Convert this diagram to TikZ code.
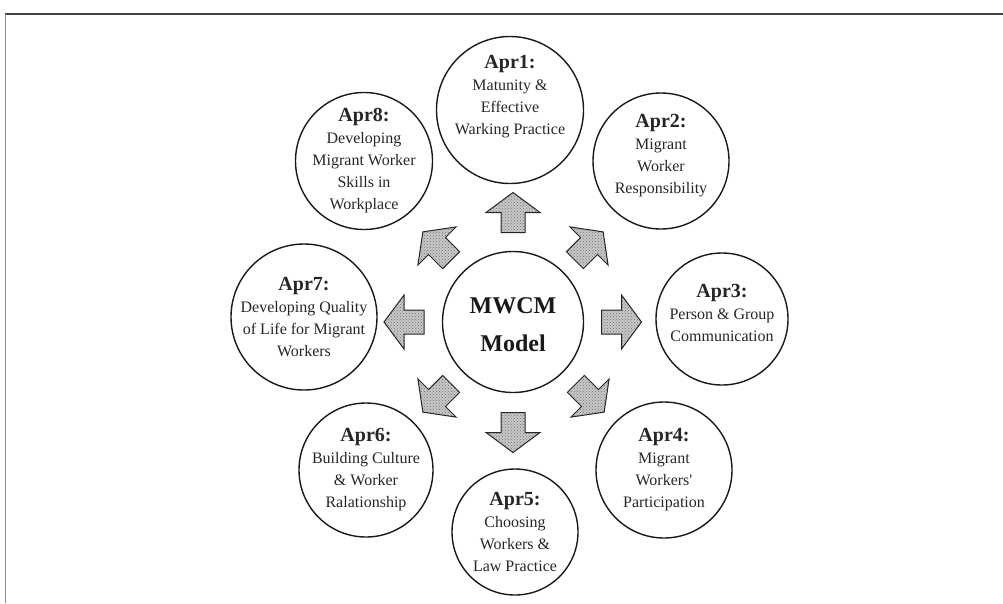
\documentclass[tikz,border=0pt]{standalone}
\usepackage{fontspec}
\setmainfont{Liberation Serif}
\usetikzlibrary{patterns}
\newcommand\aprlbl[1]{{\fontsize{20}{22}\selectfont\bfseries #1}}
\tikzset{
  bubble/.style={circle, draw=black!90, line width=1.4pt, inner sep=0pt},
  txt/.style={align=center, inner sep=0pt, text=black!85, font=\fontsize{16}{22}\selectfont},
  blockarrow/.pic={\draw[black!85, line width=1pt, preaction={fill=black!22}, pattern=crosshatch dots, pattern color=black!55, line join=miter]
    (-20,-12) -- (0,-12) -- (0,-27) -- (20,0) -- (0,27) -- (0,12) -- (-20,12) -- cycle;},
}
\begin{document}
\begin{tikzpicture}[x=1pt, y=-1pt]
\useasboundingbox (0,0) rectangle (1003,603);
% frame
\draw[black!75, line width=1.6pt] (5,14) -- (1003,14);
\draw[black!45, line width=0.8pt] (5,14) -- (5,603);

% circles
\node[bubble, minimum size=141pt] (c)  at (513,322) {};
\node[bubble, minimum size=147pt] (a1) at (510,110) {};
\node[bubble, minimum size=136pt] (a2) at (661,161) {};
\node[bubble, minimum size=132pt] (a3) at (722,319) {};
\node[bubble, minimum size=136pt] (a4) at (664,470) {};
\node[bubble, minimum size=126pt] (a5) at (515,532) {};
\node[bubble, minimum size=134pt] (a6) at (366,470) {};
\node[bubble, minimum size=146pt] (a7) at (304,317) {};
\node[bubble, minimum size=137pt] (a8) at (364,161) {};

% texts
\node[txt, font=\fontsize{24}{38}\selectfont\bfseries, text=black!90] (tc) at ([yshift=-3pt]c.center) {MWCM\\Model};
\node[txt] (t1) at ([yshift=13pt]a1.center) {\aprlbl{Apr1:}\\Matunity \&\\Effective\\Warking Practice};
\node[txt] (t2) at ([yshift=5pt]a2.center) {\aprlbl{Apr2:}\\Migrant\\Worker\\Responsibility};
\node[txt] (t3) at ([yshift=6pt]a3.center) {\aprlbl{Apr3:}\\Person \& Group\\Communication};
\node[txt] (t4) at (a4.center) {\aprlbl{Apr4:}\\Migrant\\Workers\textquotesingle\\Participation};
\node[txt] (t5) at (a5.center) {\aprlbl{Apr5:}\\Choosing\\Workers \&\\Law Practice};
\node[txt] (t6) at (a6.center) {\aprlbl{Apr6:}\\Building Culture\\\& Worker\\Ralationship};
\node[txt] (t7) at (a7.center) {\aprlbl{Apr7:}\\Developing Quality\\of Life for Migrant\\Workers};
\node[txt] (t8) at (a8.center) {\aprlbl{Apr8:}\\Developing\\Migrant Worker\\Skills in\\Workplace};

% block arrows
\pic[rotate=90]  at (513,212.5) {blockarrow};
\pic[rotate=0]   at (621.5,322) {blockarrow};
\pic[rotate=180] at (404,322)   {blockarrow};
\pic[rotate=270] at (513,432.5) {blockarrow};
\pic[rotate=135] at (437,246)   {blockarrow};
\pic[rotate=45]  at (589,246)   {blockarrow};
\pic[rotate=225] at (437,398)   {blockarrow};
\pic[rotate=315] at (590,398)   {blockarrow};
\end{tikzpicture}
\end{document}
